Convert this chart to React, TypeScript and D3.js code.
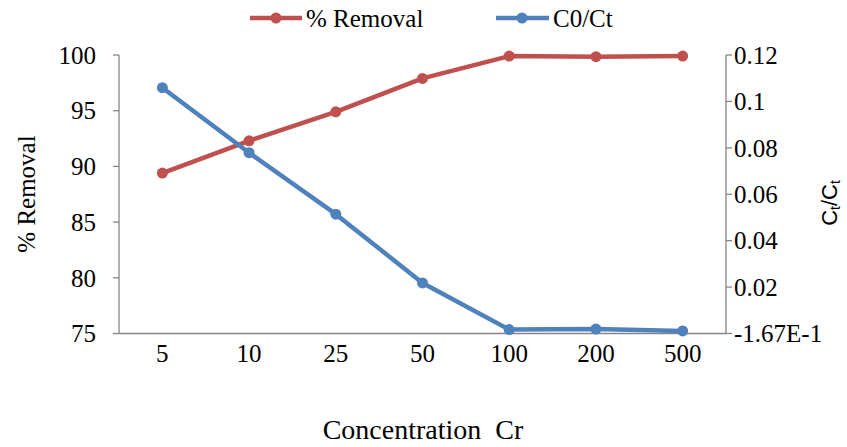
import React from 'react';
import * as d3 from 'd3';

const categories = ['5', '10', '25', '50', '100', '200', '500'];
const removal = [89.4, 92.3, 94.9, 97.9, 99.9, 99.85, 99.9];
const ratio = [0.1059, 0.0779, 0.0514, 0.0218, 0.0017, 0.0019, 0.0011];
const leftTicks = [75, 80, 85, 90, 95, 100];
const rightTicks = [0, 0.02, 0.04, 0.06, 0.08, 0.1, 0.12];
const rightTickLabels = ['-1.67E-1', '0.02', '0.04', '0.06', '0.08', '0.1', '0.12'];

const W = 847, H = 447;
const m = { left: 119, right: 121, top: 55, bottom: 113.5 };
const RED = '#C0504D', BLUE = '#4F81BD', AXIS = '#868686';
const FONT = 'Liberation Serif, Times New Roman, Times, serif';

const App = () => {
  const x = d3.scaleBand().domain(categories).range([m.left, W - m.right]);
  const yL = d3.scaleLinear().domain([75, 100]).range([H - m.bottom, m.top]);
  const yR = d3.scaleLinear().domain([0, 0.12]).range([H - m.bottom, m.top]);
  const cx = (c: string) => (x(c) as number) + x.bandwidth() / 2;

  const lineL = d3.line<number>().x((_, i) => cx(categories[i])).y((d) => yL(d));
  const lineR = d3.line<number>().x((_, i) => cx(categories[i])).y((d) => yR(d));
  const bottom = H - m.bottom;
  const right = W - m.right;
  const txt = { fontFamily: FONT, fontSize: 25 };

  return (
    <svg width={W} height={H} style={{ position: 'absolute', left: 0, top: 0, background: '#fff' }}>
      {/* axes */}
      <line x1={m.left} x2={m.left} y1={m.top} y2={bottom} stroke={AXIS} strokeWidth={1.3} />
      <line x1={right} x2={right} y1={m.top} y2={bottom} stroke={AXIS} strokeWidth={1.3} />
      <line x1={m.left} x2={right} y1={bottom} y2={bottom} stroke={AXIS} strokeWidth={1.3} />

      {leftTicks.map((t) => (
        <g key={'l' + t}>
          <line x1={m.left - 6} x2={m.left} y1={yL(t)} y2={yL(t)} stroke={AXIS} strokeWidth={1.3} />
          <text x={96} y={yL(t)} dy="0.35em" textAnchor="end" style={txt}>{t}</text>
        </g>
      ))}
      {rightTicks.map((t, i) => (
        <g key={'r' + t}>
          <line x1={right} x2={right + 6} y1={yR(t)} y2={yR(t)} stroke={AXIS} strokeWidth={1.3} />
          <text x={734} y={yR(t)} dy="0.35em" style={txt}>{rightTickLabels[i]}</text>
        </g>
      ))}
      {categories.map((c) => (
        <text key={'c' + c} x={cx(c)} y={353} dy="0.35em" textAnchor="middle" style={txt}>{c}</text>
      ))}

      {/* axis titles */}
      <text transform="translate(26,194) rotate(-90)" textAnchor="middle" dy="0.35em" style={txt}>% Removal</text>
      <text transform="translate(829,203) rotate(-90)" textAnchor="middle" dy="0.35em" style={{ fontFamily: 'Liberation Sans, Arial, sans-serif', fontSize: 22 }}>
        C<tspan fontSize={14} dy="3">t</tspan><tspan dy="-3">/C</tspan><tspan fontSize={14} dy="3">t</tspan>
      </text>
      <text x={423} y={429} dy="0.35em" textAnchor="middle" style={{ fontFamily: FONT, fontSize: 28, whiteSpace: 'pre' }}>Concentration  Cr</text>

      {/* series */}
      <path d={lineL(removal) ?? ''} fill="none" stroke={RED} strokeWidth={4.5} strokeLinejoin="round" />
      {removal.map((v, i) => (
        <circle key={'rm' + i} cx={cx(categories[i])} cy={yL(v)} r={5.5} fill={RED} />
      ))}
      <path d={lineR(ratio) ?? ''} fill="none" stroke={BLUE} strokeWidth={4.5} strokeLinejoin="round" />
      {ratio.map((v, i) => (
        <circle key={'bm' + i} cx={cx(categories[i])} cy={yR(v)} r={5.5} fill={BLUE} />
      ))}

      {/* legend */}
      <line x1={250} x2={302} y1={18} y2={18} stroke={RED} strokeWidth={4.5} />
      <circle cx={276} cy={18} r={5.5} fill={RED} />
      <text x={306} y={18} dy="0.35em" style={txt}>% Removal</text>
      <line x1={496} x2={549} y1={18} y2={18} stroke={BLUE} strokeWidth={4.5} />
      <circle cx={522} cy={18} r={5.5} fill={BLUE} />
      <text x={553} y={18} dy="0.35em" style={txt}>C0/Ct</text>
    </svg>
  );
};

export default App;
